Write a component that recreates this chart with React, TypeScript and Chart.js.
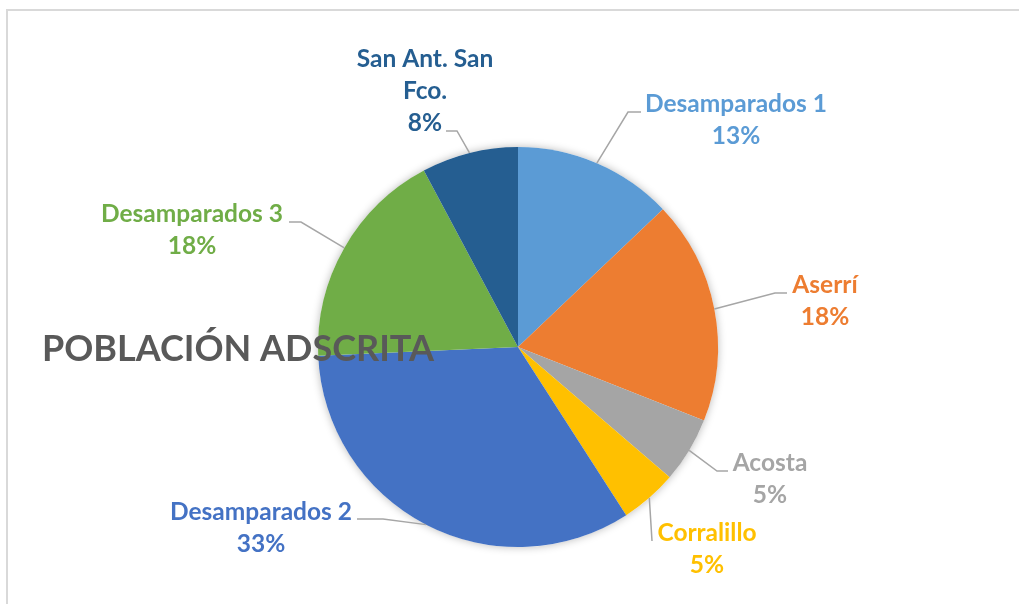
import React, { useEffect, useRef } from "react";
import { Chart, registerables } from "chart.js";

Chart.register(...registerables);

const categories = ["Desamparados 1", "Aserrí", "Acosta", "Corralillo", "Desamparados 2", "Desamparados 3", "San Ant. San Fco."];
const values = [12.9, 18.1, 5.3, 4.6, 33.4, 17.9, 7.8];
const colors = ["#5B9BD5", "#ED7D31", "#A5A5A5", "#FFC000", "#4472C4", "#70AD47", "#255E91"];
const titleText = "POBLACIÓN ADSCRITA";

// label layout relative to pie centre: text centre x, first baseline y, leader elbow, leader end, wrap width
const labelLayout = [
  { tx: 218, ty: -235, ex: 110, ey: -235, lx: 123, ly: -235, wrap: 999 },
  { tx: 307, ty: -54, ex: 257, ey: -54, lx: 269, ly: -54, wrap: 999 },
  { tx: 252, ty: 124, ex: 199, ey: 124, lx: 210, ly: 124, wrap: 999 },
  { tx: 189, ty: 194, ex: 134, ey: 194, lx: 134, ly: 194, wrap: 999 },
  { tx: -257, ty: 173, ex: -135, ey: 172, lx: -161, ly: 172, wrap: 999 },
  { tx: -326, ty: -125, ex: -217, ey: -125, lx: -229, ly: -125, wrap: 999 },
  { tx: -93, ty: -280, ex: -61, ey: -216, lx: -72, ly: -216, wrap: 160 },
];

const FONT = "bold 24.5px Lato, 'Open Sans', sans-serif";
const LINE_H = 32;

function wrapText(ctx: CanvasRenderingContext2D, text: string, maxW: number): string[] {
  const words = text.split(" ");
  const lines: string[] = [];
  let cur = "";
  for (const w of words) {
    const test = cur ? cur + " " + w : w;
    if (ctx.measureText(test).width > maxW && cur) {
      lines.push(cur);
      cur = w;
    } else cur = test;
  }
  if (cur) lines.push(cur);
  return lines;
}

const decorPlugin = {
  id: "decor",
  beforeDraw(chart: any) {
    const ctx = chart.ctx as CanvasRenderingContext2D;
    ctx.save();
    ctx.fillStyle = "#ffffff";
    ctx.fillRect(0, 0, chart.width, chart.height);
    ctx.fillStyle = "#D9D9D9";
    ctx.fillRect(6, 9, 2, chart.height);
    ctx.fillRect(6, 9, chart.width, 2);
    ctx.restore();
  },
  beforeDatasetsDraw(chart: any) {
    const ctx = chart.ctx as CanvasRenderingContext2D;
    ctx.save();
    ctx.shadowColor = "rgba(0,0,0,0.28)";
    ctx.shadowBlur = 8;
    ctx.shadowOffsetX = 0;
    ctx.shadowOffsetY = 0;
    const meta = chart.getDatasetMeta(0);
    const a = meta.data[0];
    if (a) {
      ctx.fillStyle = "#ffffff";
      ctx.beginPath();
      ctx.arc(a.x, a.y, a.outerRadius, 0, Math.PI * 2);
      ctx.fill();
    }
    ctx.restore();
  },
  afterDraw(chart: any) {
    const ctx = chart.ctx as CanvasRenderingContext2D;
    const meta = chart.getDatasetMeta(0);
    const data = chart.data.datasets[0].data as number[];
    const total = data.reduce((s, v) => s + v, 0);
    ctx.save();
    meta.data.forEach((arc: any, i: number) => {
      const L = labelLayout[i];
      const cx = arc.x, cy = arc.y;
      const mid = (arc.startAngle + arc.endAngle) / 2;
      const ax = cx + Math.cos(mid) * arc.outerRadius;
      const ay = cy + Math.sin(mid) * arc.outerRadius;
      ctx.strokeStyle = "#A6A6A6";
      ctx.lineWidth = 1.5;
      ctx.beginPath();
      ctx.moveTo(ax, ay);
      ctx.lineTo(cx + L.ex, cy + L.ey);
      ctx.lineTo(cx + L.lx, cy + L.ly);
      ctx.stroke();
      ctx.font = FONT;
      ctx.fillStyle = colors[i];
      ctx.textAlign = "center";
      ctx.textBaseline = "alphabetic";
      const lines = wrapText(ctx, chart.data.labels[i], L.wrap);
      lines.push(Math.round((data[i] / total) * 100) + "%");
      lines.forEach((ln, k) => ctx.fillText(ln, cx + L.tx, cy + L.ty + k * LINE_H));
    });
    ctx.font = "bold 36px Lato, 'Open Sans', sans-serif";
    ctx.fillStyle = "#595959";
    ctx.textAlign = "left";
    ctx.fillText(titleText, 42, 361);
    ctx.restore();
  },
};

export default function App() {
  const ref = useRef<HTMLCanvasElement | null>(null);
  useEffect(() => {
    if (!ref.current) return;
    const chart = new Chart(ref.current, {
      type: "pie",
      data: {
        labels: categories,
        datasets: [{ data: values, backgroundColor: colors, borderWidth: 0 }],
      },
      options: {
        animation: false,
        responsive: false,
        layout: { padding: { left: 318, right: 301, top: 147, bottom: 57 } },
        plugins: { legend: { display: false }, tooltip: { enabled: false }, title: { display: false } },
      },
      plugins: [decorPlugin],
    });
    return () => chart.destroy();
  }, []);
  return (
    <div style={{ position: "absolute", left: 0, top: 0, width: 1019, height: 604 }}>
      <canvas ref={ref} width={1019} height={604} style={{ display: "block" }} />
    </div>
  );
}
